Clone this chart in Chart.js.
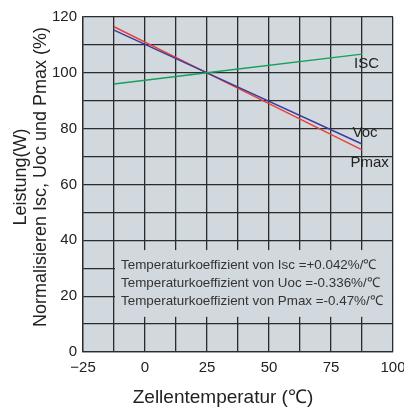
<!DOCTYPE html>
<html>
<head>
<meta charset="utf-8">
<script src="https://cdn.jsdelivr.net/npm/chart.js@4.4.1/dist/chart.umd.min.js"></script>
<style>
  html, body { margin: 0; padding: 0; background: #fff; }
  #wrap { width: 404px; height: 408px; position: relative; }
</style>
</head>
<body>
<div id="wrap"><canvas id="chart"></canvas></div>
<script>
'use strict';

// temperatures (°C) where the lines start, cross and end
const temps   = [-12.5, 25, 87.5];
const iscVals = [96.0, 100, 106.7];
const vocVals = [115.3, 100, 74.5];
const pmaxVals = [116.5, 100, 72.4];

const xTickLabels = [-25, 0, 25, 50, 75, 100];
const yTickLabels = [0, 20, 40, 60, 80, 100, 120];

const seriesLabels = [
  { text: 'ISC',  x: 89.3, y: 103.3 },
  { text: 'Voc',  x: 88.7, y: 78.6 },
  { text: 'Pmax', x: 90.6, y: 67.6 }
];

const noteLines = [
  'Temperaturkoeffizient von Isc =+0.042%/℃',
  'Temperaturkoeffizient von Uoc =-0.336%/℃',
  'Temperaturkoeffizient von Pmax =-0.47%/℃'
];

const xTitle = 'Zellentemperatur (℃)';
const yTitle = ['Leistung(W)', 'Normalisieren Isc, Uoc und Pmax (%)'];

const BG   = '#d2d9de';
const GRID = '#2b2b2b';
const TEXT = '#222';
const FONT = '"Liberation Sans", Arial, sans-serif';

const pts = vals => temps.map((t, i) => ({ x: t, y: vals[i] }));

const plotBg = {
  id: 'plotBg',
  beforeDraw(chart) {
    const { ctx, chartArea: a } = chart;
    ctx.save();
    ctx.fillStyle = BG;
    ctx.fillRect(a.left, a.top, a.right - a.left, a.bottom - a.top);
    ctx.restore();
  }
};

const overlay = {
  id: 'overlay',
  beforeDatasetsDraw(chart) {
    const { ctx, chartArea: a, scales: { x, y } } = chart;
    // note box covering the grid
    const l = x.getPixelForValue(-12.5) + 1;
    const t = y.getPixelForValue(36.5);
    const b = y.getPixelForValue(12.6);
    ctx.save();
    ctx.fillStyle = BG;
    ctx.fillRect(l, t, a.right - 1 - l, b - t);
    ctx.fillStyle = '#333';
    ctx.font = '13.4px ' + FONT;
    ctx.textBaseline = 'middle';
    noteLines.forEach((s, i) => ctx.fillText(s, l + 6, t + 15 + i * 18.3));
    ctx.restore();
  },
  afterDraw(chart) {
    const { ctx, scales: { x, y } } = chart;
    ctx.save();
    ctx.fillStyle = TEXT;
    ctx.font = '15px ' + FONT;
    ctx.textAlign = 'center';
    ctx.textBaseline = 'middle';
    seriesLabels.forEach(s => ctx.fillText(s.text, x.getPixelForValue(s.x), y.getPixelForValue(s.y)));

    ctx.font = '19px ' + FONT;
    ctx.fillText(xTitle, 223, 398);

    ctx.font = '18px ' + FONT;
    ctx.translate(0, 177);
    ctx.rotate(-Math.PI / 2);
    ctx.fillText(yTitle[0], 0, 21);
    ctx.fillText(yTitle[1], 0, 41);
    ctx.restore();
  }
};

const lineStyle = color => ({
  borderColor: color,
  backgroundColor: color,
  borderWidth: 1.5,
  pointRadius: 0,
  showLine: true,
  tension: 0,
  fill: false
});

new Chart(document.getElementById('chart'), {
  type: 'scatter',
  data: {
    datasets: [
      { label: 'Isc',  data: pts(iscVals),  ...lineStyle('#17a05a') },
      { label: 'Voc',  data: pts(vocVals),  ...lineStyle('#3c3c9c') },
      { label: 'Pmax', data: pts(pmaxVals), ...lineStyle('#e8403c') }
    ]
  },
  options: {
    responsive: true,
    maintainAspectRatio: false,
    animation: false,
    layout: { padding: { top: 17, right: 11, left: 0, bottom: 0 } },
    plugins: { legend: { display: false }, tooltip: { enabled: false } },
    scales: {
      x: {
        type: 'linear',
        min: -25, max: 100,
        afterFit: s => { s.height = 56; s.paddingLeft = 0; s.paddingRight = 0; },
        afterBuildTicks: s => { s.ticks = []; for (let v = -25; v <= 100; v += 12.5) s.ticks.push({ value: v }); },
        ticks: {
          padding: 7,
          color: TEXT,
          font: { family: FONT, size: 15 },
          maxRotation: 0,
          autoSkip: false,
          callback: v => xTickLabels.includes(v) ? (v < 0 ? '−' + Math.abs(v) : String(v)) : ''
        },
        grid: { color: GRID, lineWidth: 1.3, drawTicks: false },
        border: { color: GRID, width: 1.3 }
      },
      y: {
        min: 0, max: 120,
        afterFit: s => { s.width = 83; s.paddingTop = 0; s.paddingBottom = 0; },
        ticks: {
          stepSize: 10,
          padding: 6,
          color: TEXT,
          font: { family: FONT, size: 15 },
          autoSkip: false,
          callback: v => yTickLabels.includes(v) ? String(v) : ''
        },
        grid: { color: GRID, lineWidth: 1.3, drawTicks: false },
        border: { color: GRID, width: 1.3 }
      }
    }
  },
  plugins: [plotBg, overlay]
});
</script>
</body>
</html>
